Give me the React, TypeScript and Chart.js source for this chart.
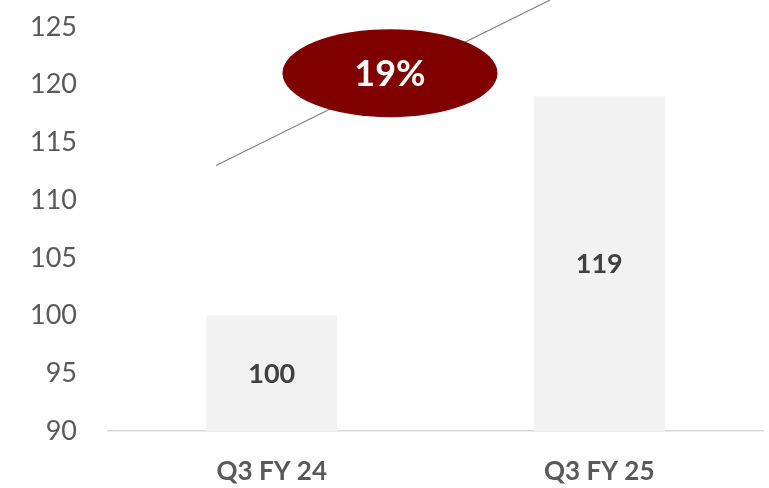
import React, { useEffect, useRef } from "react";
import { Chart, registerables } from "chart.js";

Chart.register(...registerables);

const categories = ["Q3 FY 24", "Q3 FY 25"];
const values = [100, 119];
const yTicks = [90, 95, 100, 105, 110, 115, 120, 125];
const yMin = 90;
const yMax = 127.34;
// trend arrow in data coordinates (x = category index, y = value)
const trendX = [-0.17, 0.85];
const trendY = [113.0, 127.34];
const growthLabel = "19%";
const growthX = 0.361;
const growthY = 121.0;

const FONT = "Lato, 'Open Sans', sans-serif";

const overlayPlugin = {
  id: "overlay",
  afterDatasetsDraw(chart: any) {
    const { ctx, chartArea } = chart;
    const xs = chart.scales.x;
    const ys = chart.scales.y;
    ctx.save();
    // bar value labels
    const meta = chart.getDatasetMeta(0);
    ctx.font = `bold 27px ${FONT}`;
    ctx.fillStyle = "#404040";
    ctx.textAlign = "center";
    ctx.textBaseline = "middle";
    meta.data.forEach((bar: any, i: number) => {
      const top = bar.y;
      const bottom = chartArea.bottom;
      ctx.fillText(String(values[i]), bar.x, (top + bottom) / 2 + 1);
    });
    // trend line
    ctx.beginPath();
    ctx.rect(chartArea.left, 0, chartArea.right - chartArea.left, chartArea.bottom);
    ctx.clip();
    ctx.strokeStyle = "#808080";
    ctx.lineWidth = 1.2;
    ctx.beginPath();
    ctx.moveTo(xs.getPixelForValue(trendX[0]), ys.getPixelForValue(trendY[0]));
    ctx.lineTo(xs.getPixelForValue(trendX[1]), ys.getPixelForValue(trendY[1]));
    ctx.stroke();
    // ellipse
    const cx = xs.getPixelForValue(growthX);
    const cy = ys.getPixelForValue(growthY);
    ctx.fillStyle = "#800000";
    ctx.beginPath();
    ctx.ellipse(cx, cy, 107.5, 44, 0, 0, Math.PI * 2);
    ctx.fill();
    ctx.fillStyle = "#ffffff";
    ctx.font = `bold 36px ${FONT}`;
    ctx.textAlign = "center";
    ctx.textBaseline = "middle";
    ctx.fillText(growthLabel, cx, cy + 1);
    ctx.restore();
  },
};

export default function App() {
  const ref = useRef<HTMLCanvasElement | null>(null);
  useEffect(() => {
    if (!ref.current) return;
    const chart = new Chart(ref.current, {
      type: "bar",
      data: {
        labels: categories,
        datasets: [
          {
            data: values,
            backgroundColor: "#f2f2f2",
            barPercentage: 0.4,
            categoryPercentage: 1,
          },
        ],
      },
      options: {
        animation: false,
        responsive: true,
        maintainAspectRatio: false,
        layout: { padding: { top: 0, right: 6, bottom: 0, left: 0 } },
        plugins: { legend: { display: false }, tooltip: { enabled: false } },
        scales: {
          x: {
            grid: { display: false, drawTicks: false },
            border: { display: true, color: "#d9d9d9", width: 1.5 },
            ticks: {
              color: "#595959",
              font: { family: FONT, size: 26, weight: "bold" },
              padding: 25,
            },
            afterFit(scale: any) {
              scale.height = 57;
              scale.paddingLeft = 0;
              scale.paddingRight = 0;
            },
          },
          y: {
            min: yMin,
            max: yMax,
            grid: { display: false, drawTicks: false },
            border: { display: false },
            ticks: {
              color: "#595959",
              font: { family: FONT, size: 27 },
              padding: 31,
            },
            afterBuildTicks(scale: any) {
              scale.ticks = yTicks.map((v) => ({ value: v }));
            },
            afterFit(scale: any) {
              scale.width = 108;
              scale.paddingTop = 0;
              scale.paddingBottom = 0;
            },
          },
        },
      },
      plugins: [overlayPlugin],
    });
    return () => chart.destroy();
  }, []);
  return (
    <div style={{ position: "fixed", left: 0, top: 0, width: 769, height: 488, background: "#fff" }}>
      <canvas ref={ref} />
    </div>
  );
}
